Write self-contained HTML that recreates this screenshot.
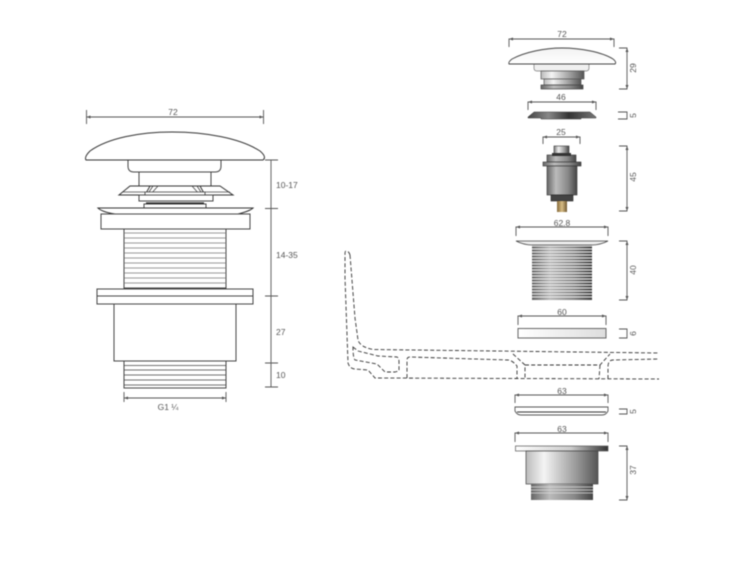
<!DOCTYPE html>
<html><head><meta charset="utf-8"><style>
html,body{margin:0;padding:0;background:#fff;width:750px;height:563px;overflow:hidden}
svg{display:block;filter:blur(.4px)}
text{font-family:"Liberation Sans",sans-serif;font-size:8.5px;fill:#555}
text.m{text-anchor:middle}
.d{fill:none;stroke:#555;stroke-width:.9}
.o{stroke:#444;stroke-width:1;fill:#fff}
.t{stroke:#777;stroke-width:.7}
.da{fill:none;stroke:#333;stroke-width:.9;stroke-dasharray:4 2.200}
</style></head><body>
<svg width="750" height="563" viewBox="0 0 750 563" xmlns="http://www.w3.org/2000/svg">
<defs>
<linearGradient id="cyl" x1="0" x2="1" y1="0" y2="0"><stop offset="0" stop-color="#777"/><stop offset=".3" stop-color="#eee"/><stop offset=".7" stop-color="#999"/><stop offset="1" stop-color="#444"/></linearGradient>
<linearGradient id="bod" x1="0" x2="1" y1="0" y2="0"><stop offset="0" stop-color="#bbb"/><stop offset=".25" stop-color="#f4f4f4"/><stop offset=".7" stop-color="#999"/><stop offset="1" stop-color="#555"/></linearGradient>
<linearGradient id="thr" x1="0" x2="1" y1="0" y2="0"><stop offset="0" stop-color="#666"/><stop offset=".3" stop-color="#bbb"/><stop offset=".7" stop-color="#888"/><stop offset="1" stop-color="#444"/></linearGradient>
<linearGradient id="fl" x1="0" x2="1" y1="0" y2="0"><stop offset="0" stop-color="#fff"/><stop offset=".6" stop-color="#ccc"/><stop offset="1" stop-color="#333"/></linearGradient>
<linearGradient id="pl" x1="0" x2="1" y1="0" y2="0"><stop offset="0" stop-color="#fff"/><stop offset="1" stop-color="#ddd"/></linearGradient>
<linearGradient id="capg" x1="0" x2="0" y1="0" y2="1"><stop offset="0" stop-color="#f2f2f2"/><stop offset="1" stop-color="#fff"/></linearGradient>
<linearGradient id="ring" x1="0" x2="1" y1="0" y2="0"><stop offset="0" stop-color="#444"/><stop offset=".3" stop-color="#888"/><stop offset=".6" stop-color="#333"/><stop offset="1" stop-color="#777"/></linearGradient>
<linearGradient id="brass" x1="0" x2="1" y1="0" y2="0"><stop offset="0" stop-color="#85693a"/><stop offset=".5" stop-color="#d8bd85"/><stop offset="1" stop-color="#6f5730"/></linearGradient>
</defs>

<!-- LEFT drawing -->
<path class="d" d="M86.500 110V124M86.500 117H263.500M263.500 110V124"/>
<text class="m" x="173" y="115">72</text>
<path class="o" d="M128 160V166Q128 172 134 172H215Q221 172 221 166V160Z"/>
<path class="o" d="M139 172H211V186H139Z"/>
<path d="M119 195L130 186H220L233 195H205L200 186H150L145 195Z" fill="#fff" stroke="#333" stroke-width="1"/>
<path d="M122 192H145M205 192H230M147 195L153 186M150 195L158 186M203 195L197 186M200 195L192 186" stroke="#444" stroke-width=".8" fill="none"/>
<path class="o" d="M139 195H213V201H139Z"/>
<path d="M145 192H205V195H145Z" fill="#fff" stroke="#333" stroke-width=".8"/>
<path class="o" d="M144 204H206V209H144Z"/>
<path d="M146 203H204" stroke="#222" stroke-width="1.200"/>
<path d="M86 160Q84 157 90 151C108 138 140 132 172 132C205 132 240 138 260 151Q267 157 263 160Z" fill="#fff" stroke="#333" stroke-width="1"/>
<path d="M98 208H253Q250 211 238 214H115Q102 212 98 208Z" fill="#fff" stroke="#333" stroke-width="1"/>
<rect class="o" x="101" y="214" width="149" height="15"/>
<rect class="o" x="124" y="229" width="102" height="59"/>
<path class="t" d="M124 233H226M124 238H226M124 243H226M124 248H226M124 253H226M124 258H226M124 263H226M124 268H226M124 273H226M124 278H226M124 283H226"/>
<rect class="o" x="97" y="289" width="156" height="15"/>
<path d="M97 296H253" stroke="#444" stroke-width="1"/>
<rect class="o" x="114" y="304" width="122" height="57"/>
<rect class="o" x="124" y="361" width="102" height="27"/>
<path d="M124 365.500H226M124 370H226M124 375H226M124 380H226M124 385H226" stroke="#444" stroke-width=".7"/>
<path class="d" d="M124 392V402M124 398H226M226 392V402"/>
<text class="m" x="168" y="410">G1 ¼</text>
<path class="d" d="M271 160V387M265 160H278M265 208.500H278M265 296H278M265 363H278M265 387H278"/>
<text x="276" y="188">10-17</text>
<text x="276" y="258">14-35</text>
<text x="276" y="335">27</text>
<text x="276" y="378">10</text>

<!-- RIGHT exploded -->
<path class="d" d="M509 47V39H614V47"/>
<text class="m" x="562" y="37">72</text>
<path d="M534 64H589V68Q589 71 586 71H537Q534 71 534 68Z" fill="#f0f0f0" stroke="#777" stroke-width=".7"/>
<rect x="541" y="71" width="43" height="8" fill="url(#bod)" stroke="#555" stroke-width=".7"/>
<rect x="544" y="79" width="37" height="6" fill="url(#bod)" stroke="#555" stroke-width=".7"/>
<rect x="541" y="85" width="42" height="4" fill="url(#thr)" stroke="#444" stroke-width=".7"/>
<path d="M509 64Q508 62 512 59C525 52 545 48 562 48C580 48 602 52 613 59Q617 62 615 64Z" fill="url(#capg)" stroke="#444" stroke-width=".9"/>
<path class="d" d="M619 48H627V89H619"/>
<text class="m" transform="translate(636 68) rotate(-90)">29</text>

<path class="d" d="M528 110V102H596V110"/>
<text class="m" x="561" y="100">46</text>
<path d="M528 117L534 112H590L596 117V118H581V119H541V118H528Z" fill="url(#ring)" stroke="#333" stroke-width=".5"/>
<path class="d" d="M618 112H627V119H618"/>
<text class="m" transform="translate(636 115.500) rotate(-90)">5</text>

<path class="d" d="M543 144V137H580V144"/>
<text class="m" x="561" y="135">25</text>
<rect x="554" y="146" width="15" height="8" fill="url(#cyl)" stroke="#333" stroke-width=".6"/>
<rect x="547" y="155" width="29" height="7" fill="url(#thr)" stroke="#333" stroke-width=".6"/>
<rect x="552" y="153" width="19" height="3" fill="#333"/>
<rect x="543" y="162" width="38" height="4" fill="url(#thr)" stroke="#333" stroke-width=".6"/>
<rect x="547" y="166" width="30" height="29" fill="url(#thr)" stroke="#333" stroke-width=".6"/>
<rect x="551" y="195" width="22" height="6" fill="#444" stroke="#222" stroke-width=".6"/>
<rect x="557" y="201" width="10" height="11" fill="url(#brass)"/>
<path class="d" d="M619 146H627V211H619"/>
<text class="m" transform="translate(636 177) rotate(-90)">45</text>

<path class="d" d="M516 236V227H608V236"/>
<text class="m" x="562" y="226">62.8</text>
<rect x="532" y="243" width="60" height="57" fill="url(#thr)"/>
<path d="M532 246H592M532 249H592M532 252H592M532 255H592M532 258H592M532 261H592M532 264H592M532 267H592M532 270H592M532 273H592M532 276H592M532 279H592M532 282H592M532 285H592M532 288H592M532 291H592M532 294H592M532 297H592" stroke="#eee" stroke-width="1"/>
<path d="M516 241H608Q600 245 592 245H532Q524 245 516 241Z" fill="#eee" stroke="#444" stroke-width=".8"/>
<path class="d" d="M619 241H627V300H619"/>
<text class="m" transform="translate(636 270) rotate(-90)">40</text>

<path class="d" d="M518 325V316H606V325"/>
<text class="m" x="562" y="315">60</text>
<rect x="518" y="328.500" width="88" height="9.500" fill="url(#pl)" stroke="#666" stroke-width="1"/>
<path class="d" d="M619 329H627V338H619"/>
<text class="m" transform="translate(636 333.500) rotate(-90)">6</text>

<!-- sink dashed -->
<path class="da" d="M350 255Q349 251 346 251Q345 251 345 254V278L348 363Q350 369 355 369L368 370L375 378L659 379"/>
<path class="da" d="M350 255L355 318L358 340Q360 347 373 349.500L659 353"/>
<path class="da" d="M353 347L358 351L378 356L397 357Q399 358 399 362V370Q399 371 395 372L385 372L377 364L355 360Q353 358 353 347Z"/>
<path class="da" d="M407 378V360Q407 357 410 357L508 360Q512 360 517 366V379"/>
<path class="da" d="M513 354L525 365V379M525 365H600L610 354M600 365L599 379M608 379V367Q608 360 613 360L659 359"/>

<path class="d" d="M515 403V395H608V403"/>
<text class="m" x="562" y="394">63</text>
<path d="M515 407H608V411Q606 415 602 415H521Q517 415 515 411Z" fill="#fff" stroke="#555" stroke-width=".9"/>
<path d="M517 412H606" stroke="#333" stroke-width="1"/>
<path class="d" d="M619 409H627V414H619"/>
<text class="m" transform="translate(636 411.500) rotate(-90)">5</text>

<path class="d" d="M515 442V433H608V442"/>
<text class="m" x="562" y="432">63</text>
<rect x="515.500" y="446" width="92.500" height="5" fill="url(#fl)" stroke="#555" stroke-width=".7"/>
<rect x="526" y="451" width="72" height="33" fill="url(#bod)" stroke="#444" stroke-width=".7"/>
<rect x="531" y="484" width="62" height="16" fill="url(#thr)"/>
<path d="M531 487H593M531 490H593M531 493H593" stroke="#ddd" stroke-width=".7"/>
<path class="d" d="M619 446H627V500H619"/>
<text class="m" transform="translate(636 470) rotate(-90)">37</text>

<!-- arrowheads -->
<path fill="#555" d="M86.500 117l4-1.500v3zM263.500 117l-4-1.500v3zM124 398l4-1.500v3zM226 398l-4-1.500v3zM509 39l4-1.500v3zM614 39l-4-1.500v3zM528 102l4-1.500v3zM596 102l-4-1.500v3zM543 137l4-1.500v3zM580 137l-4-1.500v3zM516 227l4-1.500v3zM608 227l-4-1.500v3zM518 316l4-1.500v3zM606 316l-4-1.500v3zM515 395l4-1.500v3zM608 395l-4-1.500v3zM515 433l4-1.500v3zM608 433l-4-1.500v3zM627 48l-1.500 4h3zM627 89l-1.500-4h3zM627 146l-1.500 4h3zM627 211l-1.500-4h3zM627 241l-1.500 4h3zM627 300l-1.500-4h3zM627 446l-1.500 4h3zM627 500l-1.500-4h3z"/>
</svg>
</body></html>
